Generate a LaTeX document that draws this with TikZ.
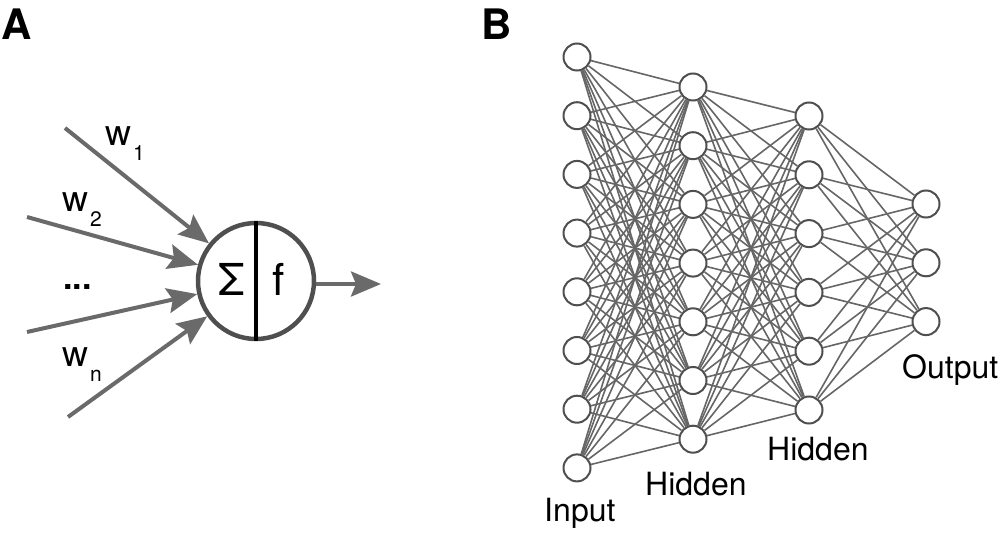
\documentclass[tikz,border=0pt]{standalone}
\usepackage{fontspec}
\setmainfont{TeX Gyre Heros}
\usetikzlibrary{arrows.meta}
\definecolor{arrgray}{HTML}{6A6A6A}
\definecolor{ringgray}{HTML}{4F4F4F}
\definecolor{edgegray}{HTML}{666666}
\begin{document}
\begin{tikzpicture}[x=1pt,y=-1pt,
  inarrow/.style={draw=arrgray, line width=4pt, -{Stealth[length=30pt,width=25pt,inset=5pt]}},
  neuronbox/.style={circle, draw=ringgray, line width=4.5pt, fill=white, minimum size=116pt, inner sep=0pt},
  unit/.style={circle, draw=ringgray, line width=2pt, fill=white, minimum size=27pt, inner sep=0pt},
  conn/.style={draw=edgegray, line width=1.6pt},
  lbl/.style={font=\fontsize{32}{32}\selectfont, anchor=base west, inner sep=0pt},
  symlbl/.style={font=\fontsize{44}{44}\selectfont, anchor=base west, inner sep=0pt},
  wlbl/.style={font=\fontsize{36}{36}\selectfont, anchor=base west, inner sep=0pt},
  panel/.style={font=\bfseries\fontsize{42}{42}\selectfont, anchor=base west, inner sep=0pt}]
\useasboundingbox (0,0) rectangle (1000,534);
\newcommand{\wsub}[1]{\raisebox{-15pt}{\fontsize{21}{21}\selectfont\kern2pt#1}}
% ---------- Panel A ----------
\node[panel] (labA) at (1,40) {A};
\node[neuronbox] (neuron) at (256,281) {};
\draw[black, line width=3.5pt] (neuron.north) -- (neuron.south);
\node[symlbl] (sigma) at (218,295) {Σ};
\node[symlbl] (fsym) at (272,295) {f};
\coordinate (in1) at (65,128);
\coordinate (in2) at (27,217);
\coordinate (in3) at (27,332);
\coordinate (in4) at (68,417);
\coordinate (outA) at (381,284);
\draw[inarrow] (in1) -- (neuron);
\draw[inarrow] (in2) -- (neuron);
\draw[inarrow] (in3) -- (neuron);
\draw[inarrow] (in4) -- (neuron);
\draw[inarrow] (neuron.east |- outA) -- (outA);
\node[wlbl] (w1) at (105,146) {w\wsub{1}};
\node[wlbl] (w2) at (62,212) {w\wsub{2}};
\node[wlbl, font=\bfseries\fontsize{34}{34}\selectfont] (dots) at (63,290) {...};
\node[wlbl] (wn) at (62,366) {w\wsub{n}};
% ---------- Panel B ----------
\node[panel] (labB) at (481,40) {B};
\foreach \k in {1,...,8} \node[unit] (i\k) at (577,{57+58.7*(\k-1)}) {};
\foreach \k in {1,...,7} \node[unit] (h\k) at (693,{87+58.7*(\k-1)}) {};
\foreach \k in {1,...,6} \node[unit] (g\k) at (809,{116+58.8*(\k-1)}) {};
\foreach \k in {1,...,3} \node[unit] (o\k) at (926,{204+58.8*(\k-1)}) {};
\foreach \a in {1,...,8} \foreach \b in {1,...,7} \draw[conn] (i\a) -- (h\b);
\foreach \a in {1,...,7} \foreach \b in {1,...,6} \draw[conn] (h\a) -- (g\b);
\foreach \a in {1,...,6} \foreach \b in {1,...,3} \draw[conn] (g\a) -- (o\b);
\node[lbl] (tin) at (544,521) {Input};
\node[lbl] (th1) at (645,495) {Hidden};
\node[lbl] (th2) at (767,460) {Hidden};
\node[lbl] (tout) at (902,378) {Output};
\end{tikzpicture}
\end{document}
